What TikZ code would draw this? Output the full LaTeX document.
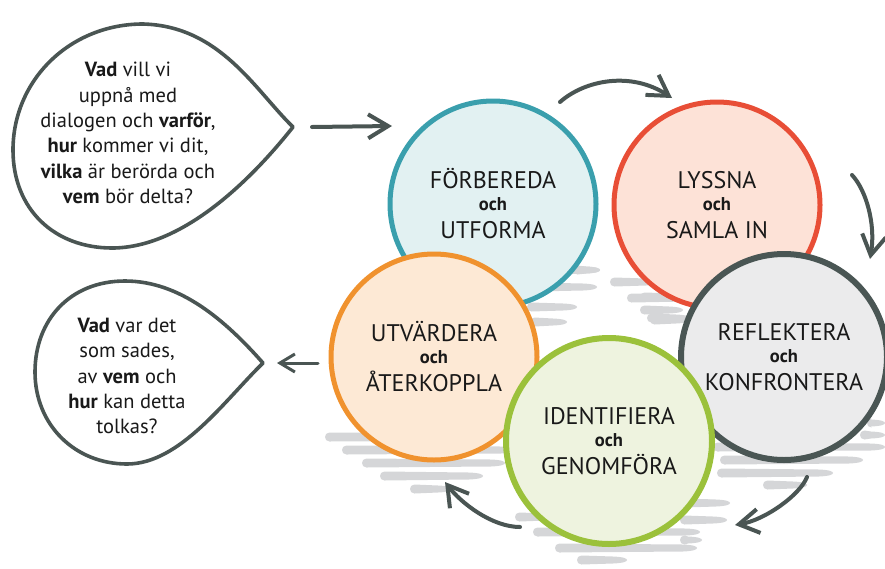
\documentclass[tikz,border=0pt]{standalone}
\usepackage{fontspec}
\setmainfont{PT Sans}
\usetikzlibrary{arrows.meta}
\definecolor{dk}{HTML}{4A5553}
\definecolor{shd}{HTML}{D5D6D8}
\definecolor{tealS}{HTML}{3A9FAD}\definecolor{tealF}{HTML}{E2F1F2}
\definecolor{redS}{HTML}{E84E36}\definecolor{redF}{HTML}{FDE2D7}
\definecolor{greyS}{HTML}{4A5654}\definecolor{greyF}{HTML}{EBEBEC}
\definecolor{orS}{HTML}{F0922E}\definecolor{orF}{HTML}{FDE9D5}
\definecolor{grS}{HTML}{9BC13B}\definecolor{grF}{HTML}{EEF3DF}
\newcommand\stagetext[2]{#1\\{\fontsize{18.5}{22}\selectfont\bfseries och}\\[6pt]#2}
\begin{document}
\begin{tikzpicture}[x=1pt,y=-1pt,
  shadow/.style={fill=shd},
  stage/.style={circle,minimum size=206pt,inner sep=0pt,line width=5pt,align=center,
     font=\fontsize{24}{22}\selectfont,text=black!90},
  balloon/.style={draw=dk,line width=3.6pt,line join=round,fill=white},
  btext/.style={align=center,font=\fontsize{20.5}{25.3}\selectfont,text=black!90},
  arr/.style={draw=dk,line width=4pt,line cap=round,-{Straight Barb[length=20pt,width=24pt]}},
  arrsmall/.style={draw=dk,line width=3pt,line cap=round,-{Straight Barb[length=15pt,width=18pt]}}]
\useasboundingbox (0,0) rectangle (885,568);
% shadows (tapered brush strokes)
\foreach \a/\b/\y in {555/600/270, 530/597/287, 527/577/307, 530/567/322,
   573/600/270, 610/660/282, 627/700/298, 647/690/318, 640/690/297, 640/683/310, 650/690/320,
   325/500/437, 342/515/450, 362/505/463, 380/483/476, 410/452/489,
   527/720/503, 515/560/517, 533/700/532, 555/697/548, 577/627/560,
   713/885/447, 720/863/460, 717/833/473, 763/807/485, 680/730/503, 680/727/520, 680/702/540,
   867/885/423, 860/885/435}
  \fill[shadow] (\a+4.5,\y-4.5) -- (\b-14,\y-3.5) .. controls (\b-3,\y-3) and (\b,\y-1.5) .. (\b,\y)
     .. controls (\b,\y+1.5) and (\b-3,\y+3) .. (\b-14,\y+3.5) -- (\a+4.5,\y+4.5)
     .. controls (\a-1.5,\y+4.5) and (\a-1.5,\y-4.5) .. (\a+4.5,\y-4.5) -- cycle;
% circles
\node[stage,draw=tealS,fill=tealF] (prep) at (493,204) {\stagetext{FÖRBEREDA}{UTFORMA}};
\node[stage,draw=redS,fill=redF] (listen) at (717,205) {\stagetext{LYSSNA}{SAMLA IN}};
\node[stage,draw=orS,fill=orF] (eval) at (434,357) {\stagetext{UTVÄRDERA}{ÅTERKOPPLA}};
\node[stage,draw=greyS,fill=greyF,line width=6pt] (refl) at (784,357) {\stagetext{REFLEKTERA}{KONFRONTERA}};
\node[stage,draw=grS,fill=grF,line width=6pt] (ident) at (609,441) {\stagetext{IDENTIFIERA}{GENOMFÖRA}};
% balloons
\coordinate (tipA) at (293,127);
\draw[balloon] (tipA) .. controls (255,90) and (220,26) .. (143,24)
  .. controls (70,24) and (13,80) .. (13,150)
  .. controls (13,210) and (55,248) .. (112,248)
  .. controls (185,248) and (255,175) .. (tipA) -- cycle;
\node[btext] (qA) at (128,133) {{\bfseries Vad} vill vi\\uppnå med\\dialogen och {\bfseries varför},\\{\bfseries hur} kommer vi dit,\\{\bfseries vilka} är berörda och\\{\bfseries vem} bör delta?};
\coordinate (tipB) at (263,363);
\draw[balloon] (tipB) .. controls (225,320) and (180,281) .. (125,281)
  .. controls (70,281) and (35,320) .. (35,372)
  .. controls (35,425) and (75,464) .. (127,464)
  .. controls (180,464) and (225,400) .. (tipB) -- cycle;
\node[btext] (qB) at (127,376) {{\bfseries Vad} var det\\som sades,\\av {\bfseries vem} och\\{\bfseries hur} kan detta\\tolkas?};
% arrows
\coordinate (a1s) at (312,127); \coordinate (a1e) at (392,126);
\draw[arr] (a1s) -- (a1e);
\coordinate (a2s) at (560,102); \coordinate (a2e) at (672,98);
\draw[arr] (a2s) .. controls (585,80) and (631,71) .. (a2e);
\coordinate (a3s) at (852,175); \coordinate (a3e) at (870,259);
\draw[arr] (a3s) .. controls (866,190) and (876,224) .. (a3e);
\coordinate (a4s) at (807,477); \coordinate (a4e) at (735,525);
\draw[arr] (a4s) .. controls (800,495) and (765,520) .. (a4e);
\coordinate (a5s) at (520,527); \coordinate (a5e) at (445,482);
\draw[arr] (a5s) .. controls (492,527) and (461,503) .. (a5e);
\coordinate (a6s) at (318,363); \coordinate (a6e) at (277,363);
\draw[arrsmall] (a6s) -- (a6e);
\end{tikzpicture}
\end{document}
